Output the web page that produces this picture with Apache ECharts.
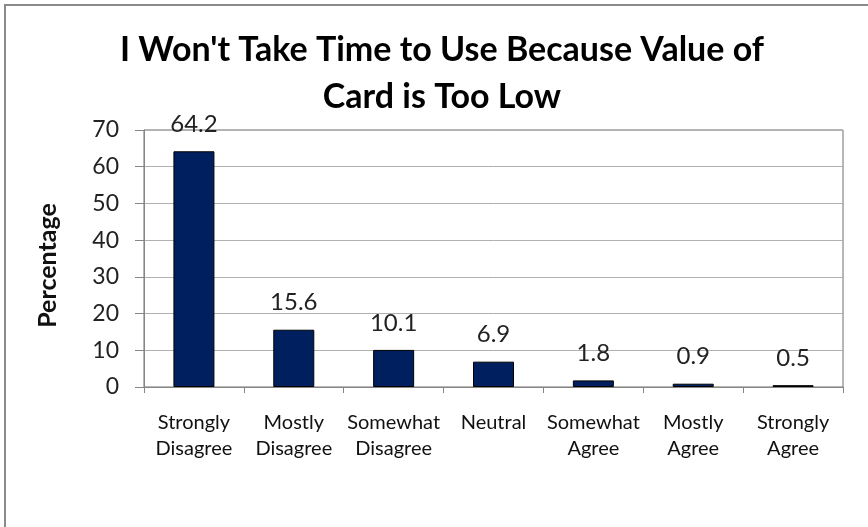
<!DOCTYPE html>
<html>
<head>
<meta charset="utf-8">
<script src="https://cdn.jsdelivr.net/npm/echarts@6/dist/echarts.min.js"></script>
<style>
  html, body { margin: 0; padding: 0; background: #fff; }
  #chart { width: 868px; height: 527px; }
</style>
</head>
<body>
<div id="chart"></div>
<script>
// Survey response categories and share of respondents (%)
const categories = [
  'Strongly\nDisagree', 'Mostly\nDisagree', 'Somewhat\nDisagree', 'Neutral',
  'Somewhat\nAgree', 'Mostly\nAgree', 'Strongly\nAgree'
];
const percentages = [64.2, 15.6, 10.1, 6.9, 1.8, 0.9, 0.5];
const yTicks = [0, 10, 20, 30, 40, 50, 60, 70];

const FONT = 'Lato, "Open Sans", sans-serif';
const chart = echarts.init(document.getElementById('chart'), null, { renderer: 'canvas' });

chart.setOption({
  backgroundColor: '#ffffff',
  animation: false,
  graphic: [{
    type: 'rect',
    shape: { x: 5, y: 5, width: 900, height: 600 },
    style: { fill: 'none', stroke: '#8a8a8a', lineWidth: 2 },
    silent: true
  }],
  title: {
    text: "I Won't Take Time to Use Because Value of\nCard is Too Low",
    left: 442,
    top: 27,
    padding: 0,
    textAlign: 'center',
    textStyle: {
      fontFamily: FONT,
      fontWeight: 'bold',
      fontSize: 34,
      lineHeight: 47,
      color: '#000'
    }
  },
  grid: {
    left: 144, top: 130, right: 25, bottom: 140,
    show: true, borderColor: '#6e6e6e', borderWidth: 1,
    containLabel: false
  },
  xAxis: {
    type: 'category',
    data: categories,
    boundaryGap: true,
    axisLine: { lineStyle: { color: '#868686', width: 1 } },
    axisTick: { show: true, alignWithLabel: false, length: 6, lineStyle: { color: '#868686' } },
    axisLabel: {
      interval: 0,
      margin: 23,
      fontFamily: FONT,
      fontSize: 20,
      lineHeight: 26,
      color: '#111'
    }
  },
  yAxis: {
    type: 'value',
    min: yTicks[0],
    max: yTicks[yTicks.length - 1],
    interval: 10,
    name: 'Percentage',
    nameLocation: 'middle',
    nameRotate: 90,
    nameGap: 84,
    nameTextStyle: {
      fontFamily: FONT, fontWeight: 'bold', fontSize: 25, color: '#111',
      padding: [0, 14, 0, 0]
    },
    axisLine: { show: true, lineStyle: { color: '#868686', width: 1 } },
    axisTick: { show: true, length: 9, lineStyle: { color: '#868686' } },
    axisLabel: {
      margin: 25,
      fontFamily: FONT,
      fontSize: 23,
      color: '#222'
    },
    splitLine: { show: true, lineStyle: { color: '#b0b0b0', width: 1 } }
  },
  series: [{
    type: 'bar',
    data: percentages,
    barWidth: 41,
    itemStyle: { color: '#001f5f', borderColor: '#000', borderWidth: 1 },
    label: {
      show: true,
      position: 'top',
      distance: 15,
      fontFamily: FONT,
      fontSize: 24,
      lineHeight: 24,
      color: '#222'
    }
  }]
});
</script>
</body>
</html>
